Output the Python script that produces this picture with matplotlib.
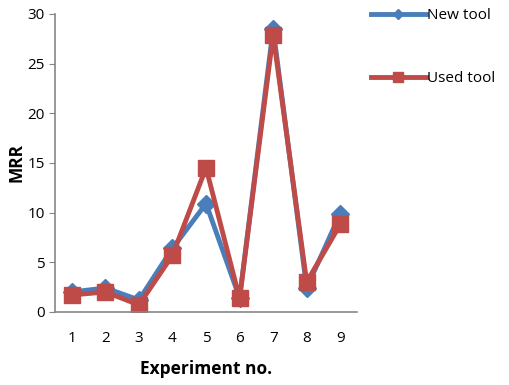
import matplotlib
matplotlib.use('Agg')
import matplotlib.pyplot as plt
import numpy as np

plt.rcParams['font.family'] = ['Open Sans', 'DejaVu Sans']

experiments = [1, 2, 3, 4, 5, 6, 7, 8, 9]
new_tool  = [2.0, 2.4, 1.2, 6.4, 10.9, 1.4, 28.5, 2.4, 9.9]
used_tool = [1.7, 2.0, 0.7, 5.7, 14.5, 1.35, 27.9, 3.0, 8.8]

blue = '#4A7EBB'
red  = '#BE4B48'

fig = plt.figure(figsize=(5.1, 3.85), dpi=100)
ax = fig.add_axes([0.108, 0.19, 0.592, 0.774])

ax.plot(experiments, new_tool, color=blue, lw=3.5, marker='D', ms=9,
        label='New tool', solid_joinstyle='miter')
ax.plot(experiments, used_tool, color=red, lw=3.5, marker='s', ms=12,
        label='Used tool', solid_joinstyle='miter')

ax.set_xlim(0.5, 9.5)
ax.set_ylim(0, 30)
ax.set_xticks(experiments)
ax.set_yticks([0, 5, 10, 15, 20, 25, 30])
ax.tick_params(axis='x', length=0, pad=14, labelsize=11)
ax.tick_params(axis='y', direction='out', length=4, color='#868686', labelsize=11)
for s in ['top', 'right']:
    ax.spines[s].set_visible(False)
for s in ['left', 'bottom']:
    ax.spines[s].set_color('#868686')
    ax.spines[s].set_linewidth(1.2)

ax.set_xlabel('Experiment no.', fontsize=12.5, fontweight='bold', labelpad=10)
ax.set_ylabel('MRR', fontsize=12.5, fontweight='bold', labelpad=1)

h, l = ax.get_legend_handles_labels()
fig.legend(h, l, loc='upper left', bbox_to_anchor=(0.7, 1.015), frameon=False,
           fontsize=11, handlelength=3.6, handletextpad=0.1, labelspacing=3.15,
           markerscale=0.6)

fig.savefig('out.png', dpi=100)
